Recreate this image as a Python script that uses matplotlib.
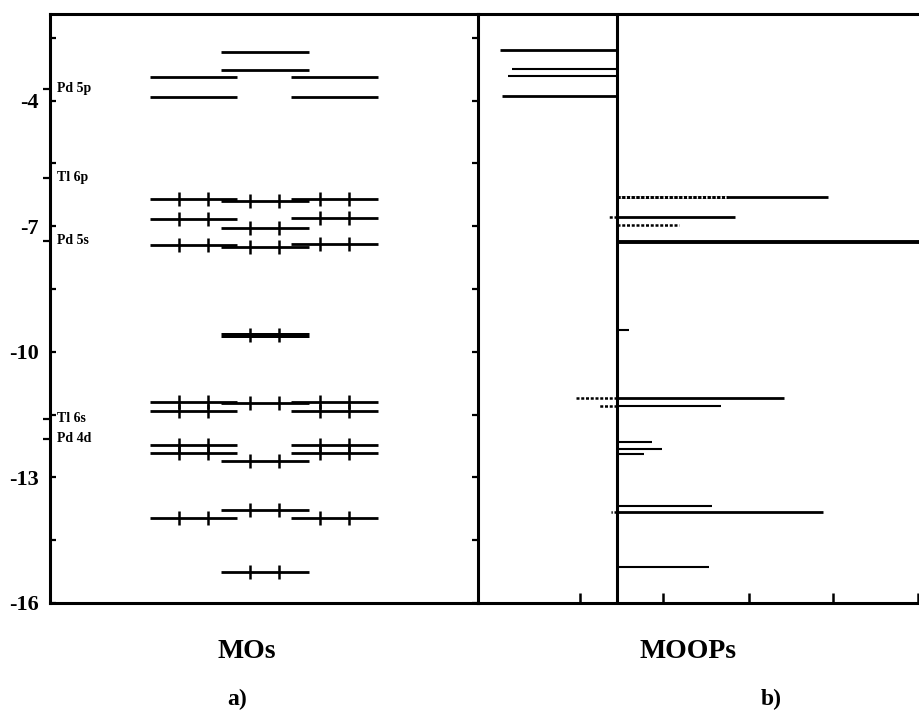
import matplotlib
matplotlib.use("Agg")
import matplotlib.pyplot as plt

plt.rcParams['font.family'] = ['Liberation Serif', 'DejaVu Serif']
plt.rcParams['font.weight'] = 'bold'

# MO levels (eV) for the three fragments of the diagram, with electron counts
left_energies = [-3.44, -3.92, -6.35, -6.82, -7.45, -11.20, -11.42, -12.23, -12.42, -13.98]
left_electrons = [0, 0, 2, 2, 2, 2, 2, 2, 2, 2]
center_energies = [-2.83, -3.26, -6.39, -7.05, -7.50, -9.60, -11.23, -12.61, -13.78, -15.27]
center_electrons = [0, 0, 2, 2, 2, 2, 2, 2, 2, 2]
right_energies = [-3.43, -3.91, -6.34, -6.81, -7.43, -11.19, -11.41, -12.22, -12.41, -13.97]
right_electrons = [0, 0, 2, 2, 2, 2, 2, 2, 2, 2]

# atomic orbital energies marked on the energy axis
ao_labels = ["Pd 5p", "Tl 6p", "Pd 5s", "Tl 6s", "Pd 4d"]
ao_energies = [-3.72, -5.84, -7.35, -11.60, -12.08]

# overlap populations: solid and dotted contributions
moop_solid_E = [-2.79, -3.25, -3.42, -3.90, -6.29, -6.77, -7.37, -9.49,
                -11.11, -11.29, -12.15, -12.31, -12.43, -13.68, -13.83, -15.13]
moop_solid = [-0.138, -0.124, -0.128, -0.135, 0.248, 0.139, 0.40, 0.014,
              0.197, 0.122, 0.041, 0.053, 0.032, 0.112, 0.242, 0.108]
moop_dot_E = [-6.29, -6.77, -6.97, -11.11, -11.29, -13.83]
moop_dot = [0.131, -0.011, 0.073, -0.048, -0.022, -0.007]

y_ticks = [-16, -14.5, -13, -11.5, -10, -8.5, -7, -5.5, -4, -2.5]
y_ticklabels = ["-16", "", "-13", "", "-10", "", "-7", "", "-4", ""]
x2_ticks = [-0.044, 0.054, 0.155, 0.254, 0.354]

W, H = 920, 715
fig = plt.figure(figsize=(W / 100, H / 100), dpi=100)
ax2 = fig.add_axes([478 / W, 1 - 603 / H, 442 / W, 589 / H])
ax = fig.add_axes([50 / W, 1 - 603 / H, 428 / W, 589 / H])
ax.patch.set_visible(False)

ylim = (-16, -1.93)

# ---- a) MO diagram
columns = [(0.335, left_energies, left_electrons),
           (0.502, center_energies, center_electrons),
           (0.665, right_energies, right_electrons)]
half = 0.102
eoff = 0.034
for cx, energies, electrons in columns:
    for e, n in zip(energies, electrons):
        lw = 3.6 if e == -9.60 else 2.0
        ax.hlines(e, cx - half, cx + half, color='k', lw=lw)
        if n:
            ax.plot([cx - eoff, cx + eoff], [e, e], ls='none', marker='|',
                    ms=10, mew=1.8, color='k')

for lab, e in zip(ao_labels, ao_energies):
    ax.text(0.017, e, lab, fontsize=10, va='center', ha='left')

ax.set_xlim(0, 1)
ax.set_ylim(*ylim)
ax.set_xticks([])
ax.set_yticks(y_ticks)
ax.set_yticklabels(y_ticklabels, fontsize=16)
ax.set_yticks(ao_energies, minor=True)
ax.tick_params(axis='y', which='major', direction='in', length=4, width=1.6,
               right=True, pad=8)
ax.tick_params(axis='y', which='minor', direction='out', length=5, width=1.6,
               right=False)
for s in ax.spines.values():
    s.set_linewidth(2.2)

# ---- b) MOOPs
solid_lw = [2.0 if abs(v) > 0.13 else 1.5 for v in moop_solid]
solid_lw[6] = 2.8
ax2.hlines(moop_solid_E, 0, moop_solid, color='k', lw=solid_lw, zorder=2)
ax2.hlines(moop_dot_E, 0, moop_dot, color='k', lw=1.8,
           linestyles=[(0, (1.2, 0.7))], gapcolor='white', zorder=3)
ax2.axvline(0, color='k', lw=2.2, zorder=4)

ax2.set_xlim(-0.1635, 0.3565)
ax2.set_ylim(*ylim)
ax2.set_yticks([])
ax2.set_xticks(x2_ticks)
ax2.set_xticklabels([])
ax2.tick_params(axis='x', direction='in', length=7, width=1.8)
ax2.spines['left'].set_visible(False)
ax2.spines['right'].set_visible(False)
for s in ['top', 'bottom']:
    ax2.spines[s].set_linewidth(2.2)

fig.text(247 / W, 1 - 651 / H, "MOs", fontsize=20, ha='center', va='center')
fig.text(688 / W, 1 - 651 / H, "MOOPs", fontsize=20, ha='center', va='center')
fig.text(237 / W, 1 - 699 / H, "a)", fontsize=17, ha='center', va='center')
fig.text(771 / W, 1 - 699 / H, "b)", fontsize=17, ha='center', va='center')

fig.savefig("out.png", dpi=100)
